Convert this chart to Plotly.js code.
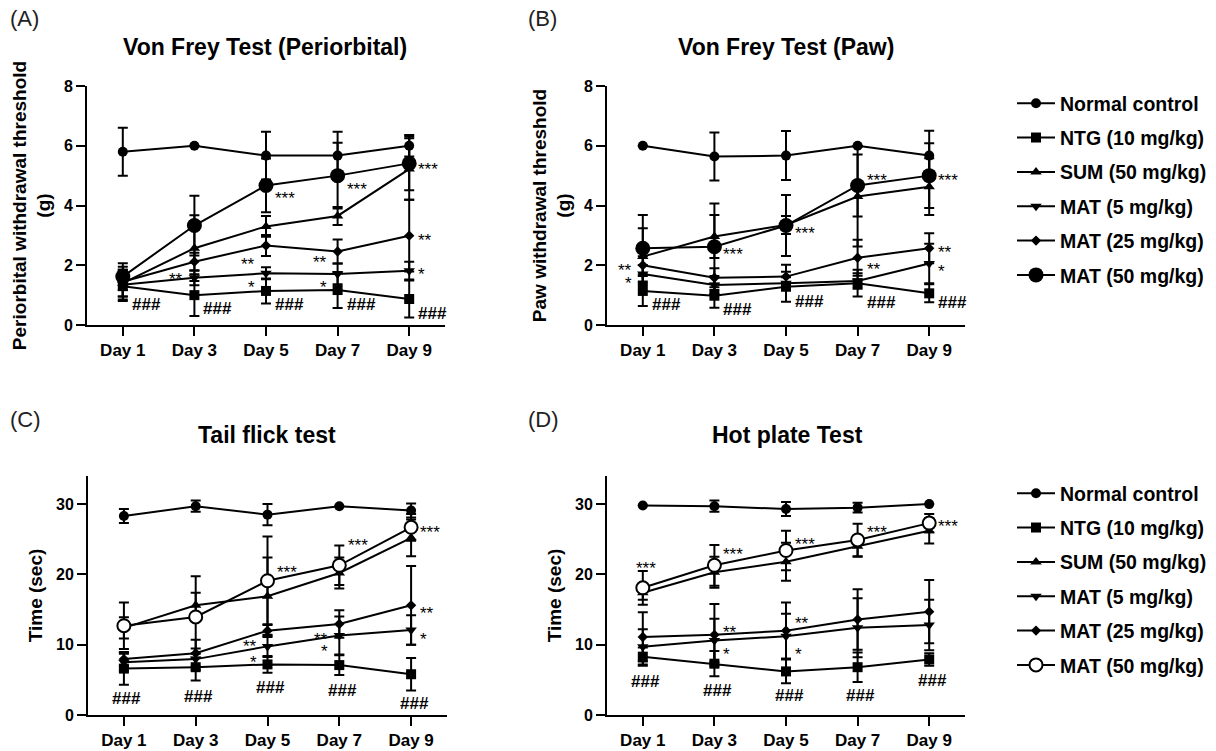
<!DOCTYPE html>
<html>
<head>
<meta charset="utf-8">
<script src="https://cdn.plot.ly/plotly-3.0.1.min.js"></script>
<style>
  html, body { margin: 0; padding: 0; background: #fff; }
  #chart { width: 1216px; height: 751px; }
</style>
</head>
<body>
<div id="chart"></div>
<script>
// ---------------- DATA ----------------
const days = ['Day 1', 'Day 3', 'Day 5', 'Day 7', 'Day 9'];
const groups = ['Normal control', 'NTG (10 mg/kg)', 'SUM (50 mg/kg)', 'MAT (5 mg/kg)', 'MAT (25 mg/kg)', 'MAT (50 mg/kg)'];

// (A) Von Frey Test (Periorbital) – mean and SEM per group (order as groups)
const periMean = [
  [5.8, 6.0, 5.67, 5.67, 6.0],
  [1.3, 1.0, 1.14, 1.17, 0.87],
  [1.4, 2.57, 3.3, 3.65, 5.22],
  [1.35, 1.58, 1.73, 1.71, 1.82],
  [1.45, 2.12, 2.66, 2.46, 2.99],
  [1.62, 3.33, 4.67, 5.0, 5.41]
];
const periErr = [
  [0.8, 0, 0.8, 0.8, 0.36],
  [0.5, 0.7, 0.42, 0.6, 0.62],
  [0.45, 1.1, 0.35, 0.3, 1.03],
  [0.5, 0.25, 0.2, 0.35, 0.3],
  [0.5, 0.3, 0.35, 0.4, 1.2],
  [0.45, 1.0, 0.9, 1.1, 0.9]
];

// (B) Von Frey Test (Paw)
const pawMean = [
  [6.0, 5.64, 5.67, 6.0, 5.67],
  [1.14, 0.98, 1.28, 1.4, 1.06],
  [2.29, 2.96, 3.35, 4.3, 4.63],
  [1.71, 1.34, 1.4, 1.47, 2.06],
  [2.0, 1.58, 1.62, 2.25, 2.57],
  [2.57, 2.62, 3.33, 4.67, 5.0]
];
const pawErr = [
  [0, 0.8, 0.82, 0, 0.83],
  [0.5, 0.4, 0.5, 0.45, 0.3],
  [0.95, 0.72, 0.3, 1.67, 0.95],
  [0.3, 0.3, 0.2, 0.26, 0.66],
  [0.3, 0.32, 0.4, 0.6, 0.5],
  [1.11, 1.45, 1.02, 1.04, 1.08]
];

// (C) Tail flick test
const tailMean = [
  [28.3, 29.7, 28.5, 29.7, 29.1],
  [6.6, 6.8, 7.2, 7.1, 5.8],
  [12.4, 15.6, 16.9, 20.2, 25.2],
  [7.5, 7.95, 9.76, 11.3, 12.1],
  [7.95, 8.8, 12.0, 12.95, 15.6],
  [12.7, 13.95, 19.1, 21.3, 26.7]
];
const tailErr = [
  [1.0, 0.8, 1.5, 0, 1.0],
  [2.3, 1.9, 1.2, 1.4, 2.3],
  [1.5, 1.8, 5.5, 2.2, 2.6],
  [1.2, 1.5, 1.5, 2.7, 2.1],
  [1.0, 1.9, 0.9, 1.95, 5.6],
  [3.3, 5.8, 6.3, 2.8, 1.9]
];

// (D) Hot plate Test
const hotMean = [
  [29.8, 29.7, 29.3, 29.5, 30.0],
  [8.3, 7.3, 6.2, 6.8, 7.9],
  [17.4, 20.3, 21.8, 24.0, 26.2],
  [9.7, 10.6, 11.2, 12.4, 12.8],
  [11.1, 11.4, 12.0, 13.6, 14.7],
  [18.1, 21.3, 23.4, 24.9, 27.3]
];
const hotErr = [
  [0, 0.8, 1.0, 0.7, 0],
  [1.3, 1.8, 1.7, 2.1, 0.9],
  [1.0, 2.2, 2.7, 1.5, 1.8],
  [2.5, 3.1, 3.2, 4.2, 3.6],
  [3.5, 4.4, 4.0, 4.3, 4.5],
  [2.4, 2.9, 2.8, 2.3, 1.3]
];

// Significance labels: [day index, y value, text, side]
const periSig = [
  [0, 0.70, '###', 'R'], [1, 0.54, '###', 'R'], [2, 0.67, '###', 'R'], [3, 0.67, '###', 'R'], [4, 0.39, '###', 'R'],
  [4, 5.38, '***', 'R'], [2, 4.40, '***', 'R'], [3, 4.69, '***', 'R'], [4, 2.99, '**', 'R'], [4, 1.86, '*', 'R'],
  [1, 1.70, '**', 'L'], [2, 2.18, '**', 'L'], [2, 1.41, '*', 'L'], [3, 2.27, '**', 'L'], [3, 1.42, '*', 'L']
];
const pawSig = [
  [0, 2.0, '**', 'L'], [0, 1.56, '*', 'L'],
  [1, 2.53, '***', 'R'], [2, 3.22, '***', 'R'], [3, 5.02, '***', 'R'], [4, 5.0, '***', 'R'],
  [4, 2.6, '**', 'R'], [4, 1.95, '*', 'R'], [3, 2.04, '**', 'R'],
  [0, 0.70, '###', 'R'], [1, 0.52, '###', 'R'], [2, 0.80, '###', 'R'], [3, 0.75, '###', 'R'], [4, 0.75, '###', 'R']
];
const tailSig = [
  [0, 2.4, '###', 'C'], [1, 2.7, '###', 'C'], [2, 3.95, '###', 'C'], [3, 3.5, '###', 'C'], [4, 1.67, '###', 'C'],
  [2, 21.05, '***', 'R'], [3, 24.76, '***', 'R'], [4, 26.67, '***', 'R'], [4, 15.1, '**', 'R'], [4, 11.4, '*', 'R'],
  [2, 10.5, '**', 'L'], [2, 8.2, '*', 'L'], [3, 11.5, '**', 'L'], [3, 9.76, '*', 'L']
];
const hotSig = [
  [0, 21.57, '***', 'C'], [1, 23.5, '***', 'R'], [2, 24.9, '***', 'R'], [3, 26.67, '***', 'R'], [4, 27.5, '***', 'R'],
  [1, 12.38, '**', 'R'], [1, 9.38, '*', 'R'], [2, 13.67, '**', 'R'], [2, 9.38, '*', 'R'],
  [0, 4.76, '###', 'C'], [1, 3.43, '###', 'C'], [2, 2.71, '###', 'C'], [3, 2.71, '###', 'C'], [4, 4.86, '###', 'C']
];

// ---------------- STYLE / BUILD ----------------
const FONT = 'Liberation Sans, Arial, Helvetica, sans-serif';
const W = 1216, H = 751;
const symbolsTop = ['circle', 'square', 'triangle-up', 'triangle-down', 'diamond', 'circle'];
const symbolsBot = ['circle', 'square', 'triangle-up', 'triangle-down', 'diamond', 'circle-open'];
const sizes = [10, 10, 10, 10, 8, 15];
const sizesBot = [10, 10, 10, 10, 8, 13];

const traces = [];
function addPanel(means, errs, xa, ya, symbols, sz, legendName) {
  means.forEach((m, i) => {
    const open = symbols[i] === 'circle-open';
    traces.push({
      type: 'scatter', mode: 'lines+markers',
      x: days, y: m, xaxis: xa, yaxis: ya,
      name: groups[i],
      legendgroup: 'g' + i + (legendName || xa),
      showlegend: !!legendName,
      legend: legendName || 'legend',
      line: { color: '#000', width: 2 },
      marker: {
        symbol: open ? 'circle' : symbols[i], size: sz[i],
        color: open ? '#fff' : '#000',
        line: { color: '#000', width: open ? 2 : 0 }
      },
      error_y: { type: 'data', array: errs[i], visible: true, color: '#000', thickness: 2, width: 5 },
      cliponaxis: false
    });
  });
}
addPanel(periMean, periErr, 'x', 'y', symbolsTop, sizes, 'legend');
addPanel(pawMean, pawErr, 'x2', 'y2', symbolsTop, sizes, null);
addPanel(tailMean, tailErr, 'x3', 'y3', symbolsBot, sizesBot, 'legend2');
addPanel(hotMean, hotErr, 'x4', 'y4', symbolsBot, sizesBot, null);

const px = v => v / W;
const py = v => 1 - v / H;

function xAxis(d0, d1, anchor) {
  return {
    domain: [px(d0), px(d1)], anchor: anchor, type: 'category',
    range: [-0.5, 4.5], showline: true, linecolor: '#000', linewidth: 2,
    ticks: 'outside', ticklen: 9, tickwidth: 2, tickcolor: '#000',
    showgrid: false, zeroline: false,
    tickfont: { family: FONT, size: 17, color: '#000', weight: 'bold' }
  };
}
function yAxis(t0, t1, anchor, range, dtick, title) {
  return {
    domain: [py(t1), py(t0)], anchor: anchor, range: range, dtick: dtick,
    showline: true, linecolor: '#000', linewidth: 2,
    ticks: 'outside', ticklen: 9, tickwidth: 2, tickcolor: '#000',
    showgrid: false, zeroline: false,
    tickfont: { family: FONT, size: 16, color: '#000', weight: 'bold' },
    title: { text: title, font: { family: FONT, size: 19, color: '#000', weight: 'bold' }, standoff: 8 }
  };
}

const annotations = [];
function addSig(list, xa, ya) {
  list.forEach(s => {
    const isStar = s[2].indexOf('*') >= 0;
    const a = {
      x: days[s[0]], y: s[1], xref: xa, yref: ya, text: s[2], showarrow: false,
      font: { family: FONT, size: 17, color: '#000', weight: isStar ? 'normal' : 'bold' },
      yanchor: 'middle', yshift: isStar ? -5 : 0
    };
    if (s[3] === 'R') { a.xanchor = 'left'; a.xshift = 7; }
    else if (s[3] === 'L') { a.xanchor = 'right'; a.xshift = -9; }
    else { a.xanchor = 'center'; a.xshift = 3; }
    annotations.push(a);
  });
}
addSig(periSig, 'x', 'y');
addSig(pawSig, 'x2', 'y2');
addSig(tailSig, 'x3', 'y3');
addSig(hotSig, 'x4', 'y4');

const panelTitles = [
  ['Von Frey Test (Periorbital)', 265, 47], ['Von Frey Test (Paw)', 786, 47],
  ['Tail flick test', 267, 435], ['Hot plate Test', 787, 435]
];
panelTitles.forEach(t => annotations.push({
  text: t[0], x: px(t[1]), y: py(t[2]), xref: 'paper', yref: 'paper',
  xanchor: 'center', yanchor: 'middle', showarrow: false,
  font: { family: FONT, size: 23, color: '#000', weight: 'bold' }
}));
const panelLabels = [['(A)', 8, 19], ['(B)', 526, 19], ['(C)', 8, 419], ['(D)', 526, 419]];
panelLabels.forEach(t => annotations.push({
  text: t[0], x: px(t[1]), y: py(t[2]), xref: 'paper', yref: 'paper',
  xanchor: 'left', yanchor: 'middle', showarrow: false,
  font: { family: FONT, size: 22, color: '#222' }
}));

const legendFont = { family: FONT, size: 19.5, color: '#000', weight: 'bold' };
const layout = {
  width: W, height: H, margin: { l: 0, r: 0, t: 0, b: 0 },
  paper_bgcolor: '#fff', plot_bgcolor: 'rgba(0,0,0,0)',
  font: { family: FONT, color: '#000' },
  xaxis: xAxis(87, 445, 'y'),
  yaxis: yAxis(86, 325, 'x', [0, 8], 2, 'Periorbital withdrawal threshold<br>(g)'),
  xaxis2: xAxis(607, 965, 'y2'),
  yaxis2: yAxis(86, 325, 'x2', [0, 8], 2, 'Paw withdrawal threshold<br>(g)'),
  xaxis3: xAxis(88, 447, 'y3'),
  yaxis3: yAxis(476, 715, 'x3', [0, 34], 10, 'Time (sec)'),
  xaxis4: xAxis(607, 965, 'y4'),
  yaxis4: yAxis(476, 715, 'x4', [0, 34], 10, 'Time (sec)'),
  legend: { x: px(1012), y: py(84), xanchor: 'left', yanchor: 'top', font: legendFont,
            itemwidth: 38, tracegroupgap: 6, bgcolor: 'rgba(0,0,0,0)', borderwidth: 0 },
  legend2: { x: px(1012), y: py(474), xanchor: 'left', yanchor: 'top', font: legendFont,
             itemwidth: 38, tracegroupgap: 6, bgcolor: 'rgba(0,0,0,0)', borderwidth: 0 },
  annotations: annotations,
  showlegend: true
};

Plotly.newPlot('chart', traces, layout, { displayModeBar: false, staticPlot: true });
</script>
</body>
</html>
